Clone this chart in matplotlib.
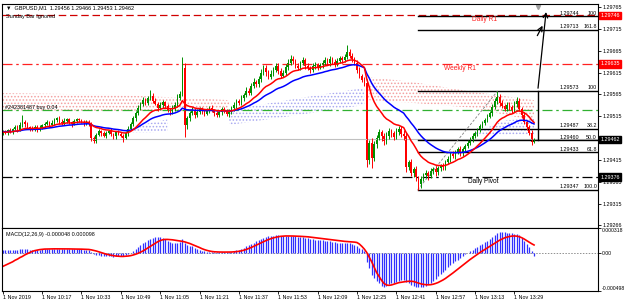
import matplotlib
matplotlib.use("Agg")
import matplotlib.pyplot as plt
import matplotlib.transforms as mtransforms
import numpy as np
import pandas as pd

plt.rcParams['font.family'] = ['Liberation Sans', 'DejaVu Sans']
plt.rcParams['hatch.linewidth'] = 0.7

BASE = 1.29
PT = 0.00001
MU = 0.000001

# prices in points above 1.29000 (GBPUSD M1, 1 Nov 2019 from 10:01)
lead_in_pts = [488, 485, 482, 486, 480, 476, 479, 483, 478, 474, 477, 481, 484, 480, 476,
               478, 482, 479, 475, 478, 481, 477, 474, 478, 480, 476, 479, 482, 478, 476]
close_pts = [
    480, 477, 483, 479, 486, 490, 484, 494, 503, 497, 491, 487, 485, 491, 486, 489,
    494, 498, 503, 496, 500, 506, 511, 503, 499, 505, 509, 501, 497, 504, 508, 506, 502, 499, 503, 497,
    466, 458, 472, 481, 476, 471, 477, 482, 474, 469, 478, 475, 471,
    466, 476, 486, 497, 510, 522, 535, 543, 552, 546, 558, 562, 551, 544, 535, 540, 547,
    538, 530, 526, 534, 542, 556, 566, 625, 495, 510, 522, 530, 518, 525, 532,
    526, 521, 528, 534, 529, 522, 518, 524, 531, 527, 520, 525, 533, 541, 549, 546,
    556, 563, 574, 569, 584, 593, 588, 600, 614, 626, 616, 606, 612, 622, 631, 619,
    608, 615, 627, 637, 646, 641, 631, 626, 636, 643, 631, 626, 621, 629, 633, 627,
    632, 638, 643, 637, 645, 640, 635, 642, 648, 644, 651, 662, 654, 647, 638, 622,
    608, 598, 592, 415, 455, 420, 452,
    466, 478, 470, 458, 470, 482, 476, 468, 480, 487, 474,
    470, 400, 410, 385, 395, 375, 360,
    372, 380, 386, 379, 390, 394, 387, 396, 402, 398, 410,
    418, 428, 424, 433, 440, 431, 441, 447,
    455, 462, 470, 477, 484, 492, 500, 507, 514, 522,
    536, 549, 560, 546, 538,
    532, 541, 536, 529, 543, 550, 532,
    518, 503, 490, 477, 456, 462,
]
wick_hi = [
    3, 4, 2, 5, 3, 4, 6, 8, 15, 3,   4, 2, 5, 3, 4, 6, 3, 5, 4, 2,
    6, 5, 3, 4, 5, 6, 3, 2, 4, 5,    3, 4, 2, 5, 3, 4, 5, 3, 4, 6,
    3, 5, 4, 2, 6, 3, 4, 5, 3, 4,    5, 6, 4, 5, 6, 7, 5, 8, 6, 4,
    13, 6, 5, 4, 7, 5, 4, 6, 5, 7,   6, 9, 8, 26, 12, 6, 5, 7, 4, 6,
    5, 4, 6, 5, 4, 6, 3, 5, 4, 6,    5, 4, 6, 5, 7, 6, 5, 7, 6, 8,
    6, 7, 9, 6, 8, 10, 7, 6, 5, 8,   6, 7, 5, 6, 7, 8, 9, 10, 6, 5,
    7, 6, 8, 5, 6, 5, 7, 6, 5, 6,    5, 7, 6, 8, 5, 6, 7, 6, 5, 7,
    16, 6, 5, 4, 6, 5, 4, 6, 8, 6,   10, 7, 6, 9, 5, 6, 8, 7, 5, 6,
    8, 6, 5, 10, 8, 6, 7, 5, 6, 4,   6, 5, 7, 4, 6, 5, 7, 6, 5, 6,
    5, 6, 5, 7, 6, 5, 6, 4, 5, 6,    5, 6, 4, 5, 6, 5, 4, 6, 5, 7,
    8, 13, 6, 7, 5, 6, 7, 5, 6, 9,   6, 5, 6, 4, 5, 6, 4,
]
wick_lo = [
    4, 3, 5, 3, 4, 2, 5, 3, 4, 6,    3, 5, 4, 3, 6, 4, 3, 5, 4, 6,
    3, 4, 5, 6, 4, 3, 5, 4, 6, 3,    4, 5, 3, 6, 4, 5, 8, 4, 5, 3,
    6, 4, 5, 3, 4, 6, 5, 3, 4, 10,   4, 5, 3, 4, 5, 4, 6, 5, 4, 6,
    5, 6, 4, 7, 5, 6, 4, 5, 7, 5,    6, 5, 4, 5, 27, 8, 6, 5, 7, 5,
    4, 6, 5, 4, 6, 5, 7, 4, 5, 6,    4, 5, 6, 4, 5, 6, 4, 5, 6, 4,
    6, 5, 4, 7, 5, 6, 4, 8, 6, 5,    4, 6, 7, 5, 4, 6, 5, 4, 7, 6,
    5, 6, 4, 7, 5, 6, 4, 5, 6, 4,    6, 5, 4, 6, 5, 7, 4, 5, 6, 5,
    6, 5, 7, 6, 8, 6, 5, 7, 16, 10,  23, 8, 10, 6, 12, 9, 7, 6, 8, 7,
    6, 8, 7, 9, 13, 8, 6, 9, 7, 13,  8, 6, 7, 9, 6, 7, 8, 6, 7, 5,
    6, 5, 7, 4, 6, 5, 7, 6, 5, 4,    6, 5, 4, 6, 5, 4, 6, 5, 4, 6,
    5, 6, 7, 5, 6, 4, 6, 7, 5, 6,    6, 7, 5, 6, 4, 6, 3,
]

# MACD(12,26,9), in millionths
macd_main = [
    30, 32, 35, 30, 34, 38, 36, 40, 48, 45, 40, 38,
    36, 38, 35, 37, 40, 42, 45, 40, 42, 45, 48, 44, 42, 44, 47, 43, 40, 42, 44, 42, 40, 38, 36, 32,
    10, -15, -30, -35, -40, -48, -45, -50, -48, -52, -45, -40, -42, -45,
    -30, -15, 0, 20, 45,
    70, 95, 120, 140, 160, 175, 190, 200, 205, 195, 185,
    170, 150, 135, 125, 120, 130, 140, 170, 120, 100, 90, 80, 60, 45, 35,
    25, 18, 12, 10, 8, 5, 3, 5, 8, 6, 4, 6, 10, 18, 28, 38, 50,
    65, 80, 95, 110, 130, 145, 160, 170, 185, 200, 210, 215, 220, 225, 222,
    220, 215, 212, 214, 218, 215, 208, 200, 196, 198, 192, 185, 178, 170, 168, 165,
    160, 158, 155, 150, 148, 140, 135, 130, 128, 125, 122, 130, 128, 115, 100, 80,
    60, 40, 25, -120, -200, -290, -330,
    -370, -400, -430, -440, -430, -410, -400, -390, -380, -370, -360,
    -360, -380, -400, -420, -430, -440, -445,
    -445, -440, -430, -410, -390, -370, -340, -310, -280, -250, -220,
    -190, -160, -140, -115, -90, -65, -45, -25,
    -5, 15, 35, 55, 75, 95, 115, 135, 155, 175,
    200, 225, 255, 265, 262,
    260, 258, 255, 250, 245, 240, 225,
    190, 150, 110, 70, 25, -48,
]
macd_signal = [
    -180, -165, -150, -135, -120, -100, -85, -65, -50, -30, -15, 0, 15,
    25, 32, 38, 42, 45, 46, 47, 48, 48, 48, 48, 48, 48, 47, 47, 46, 46, 45, 45, 44, 43, 42, 40,
    35, 28, 20, 10, 0, -10, -20, -28, -35, -40, -45, -48, -50, -50,
    -48, -45, -40, -32, -22,
    -10, 5, 20, 40, 60, 80, 100, 120, 140, 155, 165,
    170, 170, 168, 165, 160, 155, 150, 145, 138, 128, 118, 105, 92, 80, 65,
    50, 38, 28, 20, 14, 10, 8, 7, 6, 6, 6, 6, 7, 9, 12, 16, 22,
    30, 40, 52, 65, 80, 95, 110, 125, 140, 155, 168, 180, 190, 198, 205,
    210, 213, 215, 215, 215, 214, 213, 212, 210, 208, 206, 204, 200, 196, 192, 188,
    185, 180, 176, 172, 168, 164, 160, 156, 152, 148, 145, 142, 140, 138, 135, 130,
    110, 80, 45, 0, -60, -120, -190,
    -260, -310, -360, -400, -420, -425, -420, -410, -400, -390, -385,
    -380, -375, -372, -372, -375, -385, -395,
    -405, -412, -416, -418, -416, -410, -400, -388, -372, -355, -335,
    -312, -290, -265, -240, -215, -190, -165, -140,
    -115, -90, -68, -45, -22, 0, 20, 40, 60, 80,
    100, 120, 140, 160, 175,
    190, 200, 208, 213, 215, 212, 205,
    192, 175, 155, 135, 115, 98,
]

time_ticks = [0, 16, 32, 48, 64, 80, 96, 112, 128, 144, 160, 176, 192, 208]
time_labels = ['1 Nov 2019', '1 Nov 10:17', '1 Nov 10:33', '1 Nov 10:49', '1 Nov 11:05',
               '1 Nov 11:21', '1 Nov 11:37', '1 Nov 11:53', '1 Nov 12:09', '1 Nov 12:25',
               '1 Nov 12:41', '1 Nov 12:57', '1 Nov 13:13', '1 Nov 13:29']
price_ticks = [1.29765, 1.29715, 1.29665, 1.29615, 1.29565, 1.29515,
               1.29415, 1.29365, 1.29315, 1.29266]

daily_r1 = 1.29746
weekly_r1 = 1.29635
daily_pivot = 1.29376
order_price = 1.29529
bid = 1.29462

fib_levels = [1.29744, 1.29713, 1.29573, 1.29487, 1.29460, 1.29433, 1.29347]
fib_tags = ['100', '161.8', '100', '38.2', '50.0', '61.8', '100.0']
fib_start = 169

# dotted cloud areas (bar, top pts, bottom pts)
pink_a = ([0, 40, 80, 92], [568, 565, 556, 552], [529, 527, 525, 525])
blue_b = ([92, 120, 147], [529, 556, 580], [495, 518, 541])
pink_c = ([148, 166, 190, 216], [605, 594, 572, 552], [552, 546, 535, 505])
blue_d = ([52, 60, 67], [485, 500, 508], [478, 478, 482])
blue_e = ([192, 204, 216], [478, 505, 512], [470, 472, 474])

# ---------------------------------------------------------------
x = np.arange(len(close_pts))
close = BASE + np.array(close_pts) * PT
opens = BASE + np.array([lead_in_pts[-1]] + close_pts[:-1]) * PT
high = np.maximum(opens, close) + np.array(wick_hi) * PT
low = np.minimum(opens, close) - np.array(wick_lo) * PT
up = close >= opens

full = pd.Series(lead_in_pts + close_pts, dtype=float) * PT + BASE
n0 = len(lead_in_pts)
ema_fast = full.ewm(span=15, adjust=False).mean().values[n0:]
ema_slow = full.ewm(span=30, adjust=False).mean().values[n0:]

fig = plt.figure(figsize=(6.25, 3.04), dpi=100)
ax = fig.add_axes([2 / 625, 76 / 304, 596 / 625, 224 / 304])
ax2 = fig.add_axes([2 / 625, 13 / 304, 596 / 625, 63 / 304], sharex=ax)

XMAX = 242.0
ax.set_xlim(-0.3, XMAX)
ax.set_ylim(1.292594, 1.29772)

for xs, top, bot, col in [(*pink_a, '#f3a0a0'), (*blue_b, '#a8a8f0'), (*pink_c, '#f3a0a0'),
                          (*blue_d, '#a8a8f0'), (*blue_e, '#a8a8f0')]:
    ax.fill_between(xs, BASE + np.array(bot) * PT, BASE + np.array(top) * PT,
                    facecolor='none', edgecolor=col, hatch='.....', linewidth=0)

# level lines
ax.axhline(daily_r1, color='#d00000', lw=0.9, ls=(0, (6, 3)))
ax.axhline(weekly_r1, color='#ff2020', lw=0.9, ls=(0, (8, 3, 2, 3)))
ax.axhline(daily_pivot, color='black', lw=0.9, ls=(0, (8, 3, 2, 3)))
ax.axhline(order_price, color='#30b030', lw=0.9, ls=(0, (8, 3, 2, 3)))
ax.axhline(bid, color='#c0c0c0', lw=0.8)

ax.text(196, daily_r1 - 0.00002, 'Daily R1', color='#ff2020', fontsize=4.8, ha='center', va='top')
ax.text(186, weekly_r1 - 0.00002, 'Weekly R1', color='#ff2020', fontsize=4.8, ha='center', va='top')
ax.text(195.5, daily_pivot - 0.00002, 'Daily Pivot', color='black', fontsize=4.7, ha='center', va='top')
ax.text(1, order_price + 0.00001, '#242381487 buy 0.04', color='black', fontsize=3.9, va='bottom')

# fibonacci
for lvl, tag in zip(fib_levels, fib_tags):
    ax.plot([fib_start, XMAX], [lvl, lvl], color='black', lw=1.0)
    ax.text(226.5, lvl + 0.000012, '%.5f' % lvl, fontsize=3.9, va='bottom', ha='left')
    ax.text(241.6, lvl + 0.000012, tag, fontsize=3.9, va='bottom', ha='right')
ax.plot([168.7, 201.2], [1.29347, 1.29573], color='#808080', lw=0.6, ls=(0, (3, 2)))

# candles
col = np.where(up, '#009000', '#ff0000')
ax.vlines(x, low, high, colors=col, lw=0.7)
body = np.maximum(np.abs(close - opens), 0.4 * PT)
ax.bar(x, body, bottom=np.minimum(opens, close), width=0.65, color=col, linewidth=0)

ax.plot(x, ema_slow, color='#0000ff', lw=1.1)
ax.plot(x, ema_fast, color='#ff0000', lw=1.1)

# hand drawn arrows
ax.plot([217.5, 217.5], [1.29460, 1.29573], color='black', lw=1.0)
ax.annotate('', xy=(221.0, 1.29760), xytext=(217.5, 1.29573),
            arrowprops=dict(arrowstyle='->', color='black', lw=0.9, mutation_scale=8))
ax.annotate('', xy=(220.0, 1.29728), xytext=(216.8, 1.29694),
            arrowprops=dict(arrowstyle='->', color='black', lw=0.9, mutation_scale=8))
ax.plot([217.5], [1.29766], marker='v', color='#a0a0a0', ms=3)

# header texts
ax.text(0.006, 0.995, '\u25bc  GBPUSD,M1  1.29456 1.29466 1.29453 1.29462', transform=ax.transAxes,
        fontsize=4.0, va='top', ha='left')
ax.text(0.006, 0.955, 'Sunday Bar Ignored', transform=ax.transAxes, fontsize=4.0, va='top', ha='left')

# right axis
ax.yaxis.tick_right()
ax.set_yticks(price_ticks)
ax.set_yticklabels(['%.5f' % p for p in price_ticks])
ax.tick_params(axis='y', length=2, width=0.6, pad=1, labelsize=3.9)
ax.tick_params(axis='x', length=0, labelbottom=False)
trans = mtransforms.blended_transform_factory(ax.transAxes, ax.transData)
for val, fc in [(daily_r1, '#ff0000'), (weekly_r1, '#ff0000'), (bid, 'black'), (daily_pivot, 'black')]:
    ax.text(1.004, val, '%.5f' % val, transform=trans, fontsize=3.9, color='white', va='center',
            ha='left', bbox=dict(boxstyle='square,pad=0.25', fc=fc, ec=fc))
for s in ax.spines.values():
    s.set_linewidth(0.8)

# MACD panel
ax2.set_ylim(-0.000498, 0.000318)
ax2.axhline(0, color='#909090', lw=0.7, ls=(0, (1.5, 1.5)))
ax2.vlines(x, 0, np.array(macd_main) * MU, colors='#3030ff', lw=0.9)
ax2.plot(x, np.array(macd_signal) * MU, color='#ff0000', lw=1.2)
ax2.text(0.006, 0.93, 'MACD(12,26,9) -0.000048 0.000098', transform=ax2.transAxes,
         fontsize=3.9, va='top', ha='left')
ax2.yaxis.tick_right()
ax2.set_yticks([0.000318, 0, -0.000498])
ax2.set_yticklabels(['0.000318', '0.00', '-0.000498'])
labs = ax2.get_yticklabels()
labs[0].set_va('top')
labs[2].set_va('bottom')
ax2.tick_params(axis='y', length=2, width=0.6, pad=0.5, labelsize=3.7)
ax2.set_xticks(time_ticks)
ax2.set_xticklabels(time_labels, ha='left')
ax2.tick_params(axis='x', length=2, width=0.6, pad=1, labelsize=3.9)
for s in ax2.spines.values():
    s.set_linewidth(0.8)

fig.savefig('out.png', dpi=100)
